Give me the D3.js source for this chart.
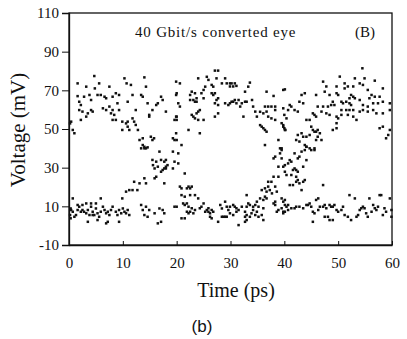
<!DOCTYPE html>
<html>
<head>
<meta charset="utf-8">
<script src="https://cdn.jsdelivr.net/npm/d3@7"></script>
<style>
  body { margin: 0; background: #fff; }
  svg text { font-family: "Liberation Serif", "Times New Roman", serif; fill: #111; }
</style>
</head>
<body>
<svg id="chart" width="407" height="339"></svg>
<script>
// eye diagram samples, [time ps, voltage mV]
const upperRail = [
  [4.7,77.4],[1.6,73.6],[3.2,71.9],[4.8,71],[5.6,73.6],[7.5,71.9],[10.3,76.2],[10.7,73.6],[14,76.7],[14.3,71.9],[11.5,72.8],[19.9,74.5],
  [1.6,67],[2.8,66.7],[3.8,67.6],[4.1,65],[5.3,67.6],[5.9,67.6],[6.6,66.7],[6.9,65.9],[8.1,66.7],[8.7,68.5],[9.3,67.6],[9.0,63.3],
  [10.9,64.1],[11.8,67.6],[13.4,67.6],[13.7,66.7],[17.1,66.7],[17.4,65],[16.5,63.3],[16.2,62.4],[18.0,59],[19.9,67.6],
  [1.9,64.1],[2.2,62.4],[1.9,59.8],[2.5,59],[3.5,58.1],[4.1,59.8],[4.4,59],[6.3,60.7],[6.9,59.8],[7.5,61.6],[8.1,59.8],[7.8,58.1],
  [8.4,57.3],[8.1,54.7],[8.7,54.7],[9.3,59.8],[9.9,53.8],[10.6,52.9],[10.9,53.8],[10.9,51.2],[9.9,49.5],[11.2,49.5],[11.8,55.5],
  [12.1,53.8],[12.4,52.1],[12.8,49.5],[12.4,59.8],[14.9,56.4],[14.9,57.3],[15.5,59.8],[14.6,63.3],
  [0.4,53.8],[0.2,52.9],[0.7,49.5],[1.0,47.8],[2.2,54.7],[3.2,56.4],
  [27.1,80.2],[27.7,80.2],[24.0,76.2],[25.6,77],[25.9,75.4],[27.4,76.2],[29.0,76.2],[29.3,73.6],[29.9,73.6],[30.2,73.6],[30.8,73.6],
  [29.9,72],[30.5,72],[31.1,72.3],[28.4,73.6],[26.5,72.8],[26.8,71.9],[25.3,71.9],[25.0,70.2],[33.6,74],[33.3,71.9],[32.7,69.3],
  [20.6,73.6],[20.0,68.5],[22.8,69.3],[23.4,68.5],[22.5,67.6],[24.6,68.5],[25,65.9],[23.7,65.9],[23.1,65],[23.4,64.1],[23.7,64.1],
  [22.5,65],[26.5,68.5],[26.8,67.6],[27.1,68.5],[27.4,65],[27.7,65.9],[27.1,63.3],[27.7,62.4],[29,63.3],[29.6,62.4],[29.9,63.3],
  [30.2,64.1],[30.5,64.1],[30.8,65],[31.1,63.3],[31.5,65],[32.1,63.3],[32.7,64.1],[33,64.1],[34,65],[34.2,61.6],[34.6,59],[31.8,61.6],
  [20.3,63.3],[20.6,61.6],[36.7,69.3],[38,67.1],[39.8,70.2],[36.4,61.6],[37,61.6],[37.6,61.6],[38.3,61.6],[35.5,58.9],[36.1,58.1],
  [36.7,59],[38.3,59.8],[37,56.4],[37.6,55.5],[38.3,54.7],[34.9,56.4],[24.3,59.8],[24,59],[23.7,58.1],[22.8,57.3],[23.1,56.4],
  [23.4,55.5],[24,54.7],[25,54.7],[20,56.4],[20,54.7],[27.1,56.4],[27.7,58.1],[32.4,56.4],
  [54.5,81.4],[50.3,77.1],[53.1,76.2],[54.9,76.2],[56.8,75],[47.2,74.5],[51.2,73.6],[54,73.6],[54.6,72.8],[47.8,72],[49.7,72],
  [51.2,71],[51.8,72],[52.8,72],[55.5,70.2],[56.2,67.6],[58.3,71],[40.1,70.5],[47.5,69.3],[48.4,67.6],[49.7,68.5],[50,67.6],
  [45.9,67.6],[43.2,67.6],[43.8,68.5],[52.4,67.6],[52.8,66.7],[53.1,65.9],[52.1,65.9],[55.8,65.9],[56.8,66.7],[57.7,66.7],
  [42.8,64.1],[43.5,63.3],[41,62.4],[41.3,61.6],[46.2,61.6],[47.2,61.6],[48.1,61.6],[48.7,62.4],[49,64.1],[49.3,62.4],[50.6,64.1],
  [50.9,63.3],[51.5,64.1],[52.1,63.3],[52.4,62.4],[52.8,59.8],[54,65],[54.6,62.4],[55.5,61.6],[56.5,63.3],[57.4,63.3],[58.3,64.1],
  [50.6,59.8],[51.5,59.8],[52.1,59.8],[54,59],[54.6,59.8],[55.5,59],[56.5,59.8],[57.1,58.1],[58.3,58.1],[59.6,63.3],[59.6,59.8],
  [39.8,60.7],[40.7,59.8],[41.9,59.8],[42.5,59],[45.3,58.1],[45.6,57.3],[45.9,56.4],[46.9,59],[47.8,58.1],[48.4,57.3],[49.7,56.4],
  [50,55.5],[50.6,57.3],[51.8,57.3],[52.8,56.4],[53.4,54.7],[40,57.3],[40.4,55.5],[44.1,54.7],[44.7,54.7],[49.7,53],[49,49.5],
  [49.7,50.4],[57.7,50.4],[58.3,51.2],[59.6,49.5],[59.3,46.9],[58.9,45.2]
];

const lowerRail = [
  [0.7,14.1],[0.4,8.1],[0.7,7.2],[1.0,4.6],[1.3,5.5],[1.6,8.1],[1.9,9.8],[2.2,7.2],[2.5,8.1],[2.8,7.2],[3.2,6.4],[3.5,8.1],[3.8,5.5],
  [4.1,9.8],[4.4,7.2],[4.7,5.5],[5.0,8.9],[5.3,6.4],[5.6,4.6],[5.9,7.2],[6.3,9.8],[6.6,8.1],[6.9,6.4],[7.2,7.2],[7.5,5.5],[7.8,8.1],
  [8.1,9.8],[8.7,7.2],[9.0,5.5],[9.3,8.1],[9.7,6.4],[10.0,8.9],[10.3,7.2],[10.6,6.4],[10.9,8.1],[11.2,5.5],[3.5,2.0],[4.4,5.5],
  [5.3,2.9],[6.9,1.2],[7.2,2.0],[9.3,2.0],[13.4,10.7],[13.7,8.1],[14.0,5.5],[14.3,9.8],[14.6,4.6],[15.9,6.4],[16.8,8.9],[17.4,8.1],
  [17.7,6.4],[16.5,1.2],[17.1,2.0],[19.6,9.8],[14.9,8.1],[0.3,8.9],[0.2,5.5],[0.3,3.8],[1.6,10.7],[2.5,10.7],[3.2,11.5],[4.1,11.5],
  [5.0,11.5],[5.9,14.1],
  [20.9,15.8],[21.5,15.0],[22.5,15.8],[23.4,15.8],[24.0,14.1],[21.2,11.5],[21.9,11.5],[21.5,10.7],[22.2,9.8],[20.0,9.8],[22.8,9.0],
  [23.4,8.1],[24.3,9.0],[25.0,11.5],[24.6,9.8],[21.9,7.2],[22.5,7.2],[23.1,6.4],[22.2,6.4],[20.9,3.8],[21.5,3.8],[25.6,8.1],[25.9,7.2],
  [26.2,6.4],[26.5,8.1],[26.8,7.2],[25.9,9.0],[25.3,7.2],[26.2,4.6],[26.5,3.8],[27.7,2.0],[31.5,0.3],[28.1,10.7],[28.4,8.9],
  [29.0,12.4],[29.3,9.8],[29.9,9.8],[29.6,8.1],[28.4,4.6],[28.7,4.6],[29.0,4.6],[29.3,4.6],[30.5,10.7],[30.8,9.8],[31.1,9.0],
  [31.5,8.1],[32.1,9.8],[32.7,7.2],[33.0,9.8],[33.3,11.5],[33.6,10.7],[29.9,6.4],[31.1,7.2],[30.5,5.5],[32.7,4.6],[33.0,5.5],
  [33.6,4.6],[33.9,6.4],[34.6,5.5],[34.2,8.1],[34.9,7.2],[35.2,9.8],[34.9,12.4],[35.5,14.1],[36.1,13.3],[36.4,15.0],[36.7,14.1],
  [36.1,9.0],[35.8,5.5],[36.1,2.9],[35.2,4.6],[32.7,2.0],[33.0,2.9],[34.6,10.7],[34.2,9.8],[33.0,15.8],
  [38.3,12.4],[38.0,11.5],[38.3,10.7],[39.5,14.1],[39.8,12.4],[40.1,10.7],[38.9,8.1],[39.5,9.0],[38.6,7.2],[39.8,6.4],[40.1,7.2],
  [40.1,13.3],[40.4,9.8],[40.7,10.7],[41.3,9.0],[41.9,9.0],[42.2,9.8],[42.8,9.8],[43.5,9.0],[44.4,10.7],[44.7,11.5],[45.0,9.8],
  [45.3,7.2],[45.6,6.4],[45.9,13.3],[46.3,14.1],[46.6,9.8],[47.2,9.8],[47.5,10.7],[47.8,9.0],[48.1,4.6],[48.4,10.7],[48.7,9.8],
  [49.0,9.8],[49.3,10.7],[49.7,8.1],[50.0,7.2],[50.6,8.1],[50.9,9.8],[51.2,5.5],[51.8,4.6],[52.1,15.8],[52.4,2.9],[53.1,14.1],
  [53.4,4.6],[53.7,5.5],[54.0,8.1],[54.3,9.0],[54.6,9.8],[54.9,9.0],[55.2,6.4],[55.5,4.6],[55.8,14.1],[56.2,7.2],[56.5,10.7],
  [56.8,9.0],[57.1,8.1],[57.4,9.8],[57.7,15.8],[58.0,15.8],[58.3,5.5],[58.6,9.0],[58.9,7.2],[59.6,14.1],[59.9,4.6],[59.9,8.1],
  [48.4,2.9],[49.0,2.9],[47.5,4.6],[46.3,8.1],[45.3,2.0],[44.1,10.7],[39.8,7.2],[40.7,8.1]
];

const firstCrossing = [
  [13.1,44.3],[13.7,45.2],[13.7,41.7],[14.0,40],[14.6,40.5],[15.2,46.0],[15.5,44.3],[15.8,45.2],
  [19.9,56.4],[19.6,54.7],[19.9,47.8],[19.3,45.2],[19.6,44.3],[22.2,49.5],[24.3,47.8],[20,44.3],[20.9,41.7],
  [13.4,40],[14,40.8],[14.3,40],[16.8,38.3],[19.3,38.3],[15.5,34],[16.2,33.1],[17.1,34],[17.7,33.1],[18,34],[18.3,31.3],
  [18,29.6],[17.7,29.6],[17.4,28.8],[17.1,27.9],[16.5,30.5],[18,30.5],[15.9,29.6],[15.6,31.3],[16.2,25.3],[15.9,24.5],
  [14,24.5],[13.1,21.9],[14.3,21.9],[12.1,22.7],[17.7,21.9],[19.3,29.6],[19.6,33.1],[11.2,18.4],[11.8,18.4],[12.7,18.4],
  [10.6,17.6],[9.9,14.1],[20.3,37.4],[20.3,32.2],[21.5,27.0],[20.6,20.2],[20.9,19.3],[22.2,20.2],[21.9,19.3],[22.5,19.3],[22.8,20.2]
];

const secondCrossing = [
  [35.5,52],[35.8,51.2],[36.1,50.4],[36.4,49.5],[36.7,48.6],[39.5,53],[39.8,51.2],[40.1,49.5],[38.9,44.3],[39.5,40],[36.4,41.7],
  [39.8,52],[40,50.4],[40.2,49.5],
  [45,51.2],[45.3,49.5],[45.6,48.6],[45.9,48.6],[46.2,49.5],[46.6,47.8],[46.9,44.3],[45.9,44.3],[46.2,46],[44.7,46.9],[44.1,46],
  [43.5,46],[43.2,47.8],[42.5,46.9],[42.2,44.3],[42.8,43.5],[43.8,41.7],[44.1,40.8],[44.7,40],[45.6,40],
  [35.8,18.4],[36.4,19.3],[36.7,17.6],[37.3,18.4],[37.0,20.2],[37.6,22.7],[38.0,25.3],[38.9,25.3],[37.0,22.7],[38.3,20.2],
  [38.6,17.6],[37.7,16.7],[38.9,30.5],[39.8,30.5],[39.5,34.8],[38.3,35.7],[38.0,34.8],[39.2,40],[39.5,39.1],[39.2,37.4],
  [40.1,27.9],[40.4,26.2],
  [44.1,40.8],[45,39.1],[45.6,39.1],[43.8,39.1],[41.9,37.4],[43.2,38.3],[42.8,35.7],[42.5,34.8],[44.1,33.9],[41,33.9],[41.3,33.1],
  [40.7,32.2],[40.1,31.3],[41.9,29.6],[42.2,28.8],[41.6,28.8],[42.5,27.9],[41.3,26.2],[42.2,25.3],[42.5,23.6],[43.8,23.6],
  [43.5,22.7],[42.8,21.9],[42.2,22.7],[41.6,21],[41,21],[43.2,18.4],[43.5,30.5],[47.2,21]
];

const xTicks = [0, 10, 20, 30, 40, 50, 60];
const yTicks = [-10, 10, 30, 50, 70, 90, 110];

const svg = d3.select('#chart');
const plotLeft = 69, plotRight = 392, plotTop = 13, plotBottom = 245;

const x = d3.scaleLinear().domain([0, 60]).range([plotLeft, plotRight]);
const y = d3.scaleLinear().domain([-10, 110]).range([plotBottom, plotTop]);

// frame
svg.append('rect')
  .attr('x', plotLeft).attr('y', plotTop)
  .attr('width', plotRight - plotLeft).attr('height', plotBottom - plotTop)
  .attr('fill', 'none').attr('stroke', '#111').attr('stroke-width', 1.3);

// plain hyphen for negatives, like the original
svg.append('g')
  .attr('transform', `translate(${plotLeft},0)`)
  .call(d3.axisLeft(y).tickValues(yTicks).tickFormat(d => String(d)).tickSize(7).tickPadding(3));

svg.append('g')
  .attr('transform', `translate(0,${plotBottom})`)
  .call(d3.axisBottom(x).tickValues(xTicks).tickFormat(d => String(d)).tickSizeInner(-4).tickSizeOuter(0).tickPadding(12));

svg.selectAll('.domain').attr('stroke', '#111').attr('stroke-width', 1.3);
svg.selectAll('.tick line').attr('stroke', '#111').attr('stroke-width', 1);
svg.selectAll('.tick text')
  .style('font-family', '"Liberation Serif", serif')
  .style('font-size', '15px')
  .attr('fill', '#111');

// dots
const allPoints = [].concat(upperRail, lowerRail, firstCrossing, secondCrossing);
svg.append('g')
  .selectAll('rect')
  .data(allPoints)
  .enter().append('rect')
  .attr('x', d => x(d[0]) - 1.25)
  .attr('y', d => y(d[1]) - 1.25)
  .attr('width', 2.5)
  .attr('height', 2.5)
  .attr('fill', '#111');

// texts
svg.append('text')
  .attr('x', 135).attr('y', 37)
  .style('font-size', '15px')
  .style('letter-spacing', '0.8px')
  .text('40 Gbit/s converted eye');

svg.append('text')
  .attr('x', 355).attr('y', 37)
  .style('font-size', '15px')
  .text('(B)');

svg.append('text')
  .attr('transform', 'translate(25,130) rotate(-90)')
  .attr('text-anchor', 'middle')
  .style('font-size', '21px')
  .text('Voltage (mV)');

svg.append('text')
  .attr('x', 236).attr('y', 297)
  .attr('text-anchor', 'middle')
  .style('font-size', '20px')
  .text('Time (ps)');

svg.append('text')
  .attr('x', 202).attr('y', 332)
  .attr('text-anchor', 'middle')
  .style('font-family', '"Liberation Sans", Arial, sans-serif')
  .style('font-size', '17px')
  .text('(b)');
</script>
</body>
</html>
